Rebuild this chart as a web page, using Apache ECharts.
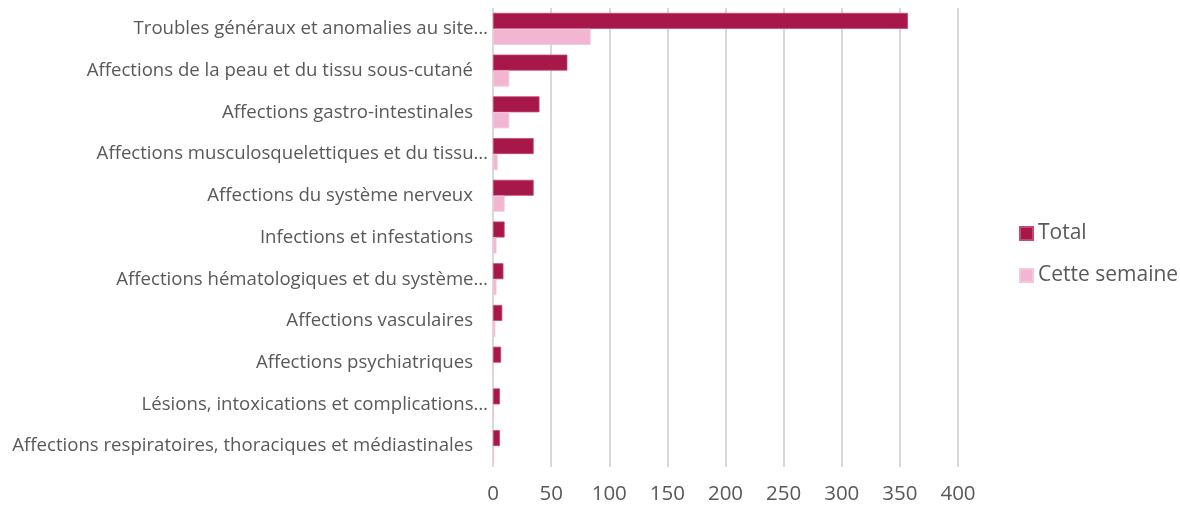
<!DOCTYPE html>
<html>
<head>
<meta charset="utf-8">
<script src="https://cdn.jsdelivr.net/npm/echarts@6/dist/echarts.min.js"></script>
<style>
  html, body { margin: 0; padding: 0; background: #fff; }
  #chart { width: 1180px; height: 505px; }
</style>
</head>
<body>
<div id="chart"></div>
<script>
// categories, top to bottom
const categories = [
  'Troubles généraux et anomalies au site…',
  'Affections de la peau et du tissu sous-cutané',
  'Affections gastro-intestinales',
  'Affections musculosquelettiques et du tissu…',
  'Affections du système nerveux',
  'Infections et infestations',
  'Affections hématologiques et du système…',
  'Affections vasculaires',
  'Affections psychiatriques',
  'Lésions, intoxications et complications…',
  'Affections respiratoires, thoraciques et médiastinales'
]
const totalValues = [357, 64, 40, 35, 35, 10, 9, 8, 7, 6, 6]
const weekValues = [84, 14, 14, 4, 10, 3, 3, 2, 0, 1, 1]

const chart = echarts.init(document.getElementById('chart'))
const font = 'Open Sans'
const textColor = '#595959'

chart.setOption({
  animation: false,
  textStyle: { fontFamily: font },
  grid: {
    left: 493,
    right: 222,
    top: 8,
    bottom: 37,
    containLabel: false
  },
  legend: {
    orient: 'vertical',
    left: 1014,
    top: 218,
    itemWidth: 13,
    itemHeight: 13,
    itemGap: 21,
    icon: 'rect',
    textStyle: { fontFamily: font, fontSize: 21, color: textColor },
    data: ['Total', 'Cette semaine']
  },
  xAxis: {
    type: 'value',
    min: 0,
    max: 400,
    interval: 50,
    axisLine: { show: false },
    axisTick: { show: false },
    axisLabel: { fontFamily: font, fontSize: 20.5, color: textColor, margin: 17 },
    splitLine: { lineStyle: { color: '#d9d9d9', width: 2 } }
  },
  yAxis: {
    type: 'category',
    inverse: true,
    data: categories,
    axisLine: { show: false },
    axisTick: { show: false },
    axisLabel: {
      margin: 5,
      // full labels sit a bit further from the axis than truncated ones
      formatter: v => (v.endsWith('…') ? '{e|' + v + '}' : '{n|' + v + '}'),
      rich: {
        e: { fontFamily: font, fontSize: 18.6, color: textColor },
        n: { fontFamily: font, fontSize: 18.6, color: textColor, padding: [0, 15, 0, 0] }
      }
    }
  },
  series: [
    {
      name: 'Total',
      type: 'bar',
      data: totalValues,
      barWidth: 16,
      barGap: '0%',
      itemStyle: { color: '#a8174a', borderColor: '#c44a74', borderWidth: 0.8 }
    },
    {
      name: 'Cette semaine',
      type: 'bar',
      data: weekValues,
      barWidth: 16,
      barGap: '0%',
      itemStyle: { color: '#f2b6d3', borderColor: '#f5c6dc', borderWidth: 0.8 }
    }
  ]
})
</script>
</body>
</html>
